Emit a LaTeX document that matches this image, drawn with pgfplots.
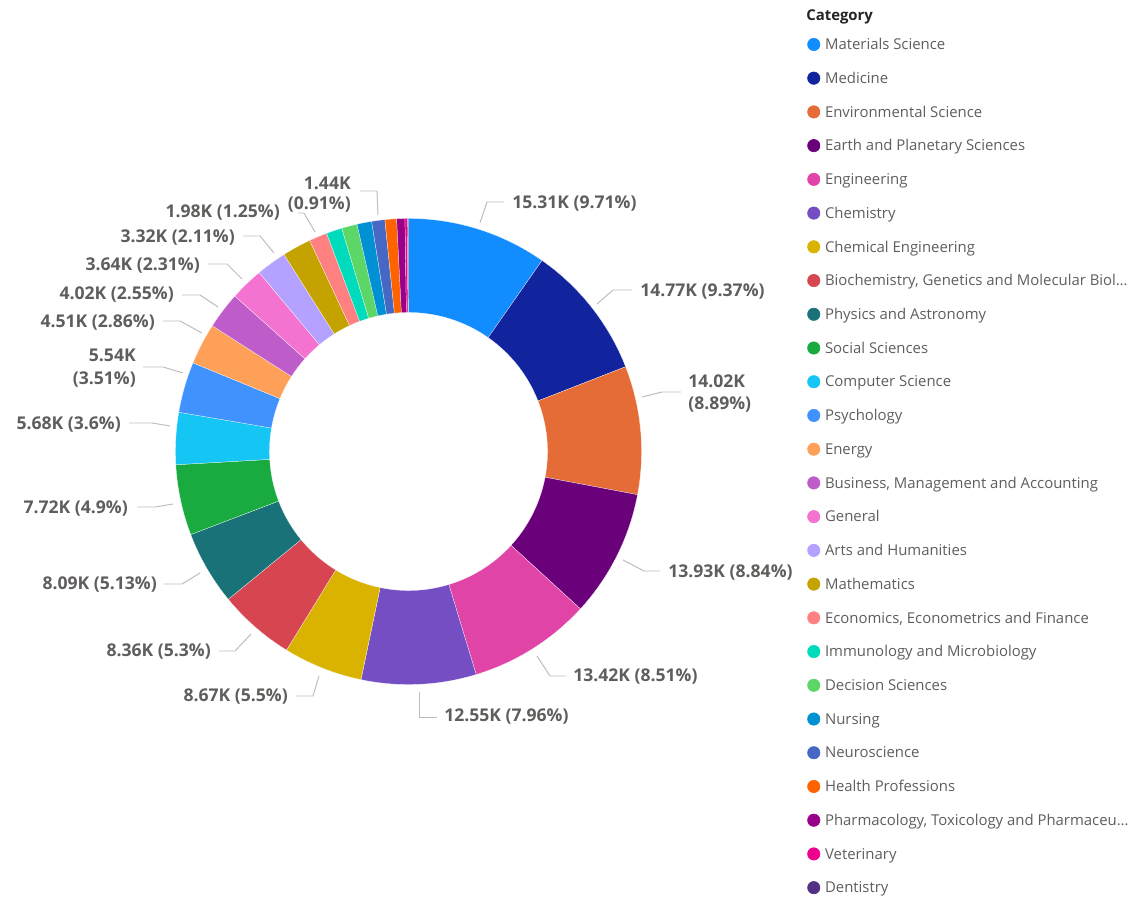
\documentclass[border=0pt]{standalone}
\usepackage{pgfplots}
\pgfplotsset{compat=1.18}
\usepackage{pgfplotstable}
\usepackage{fontspec}
\setmainfont{Open Sans}

\definecolor{lbl}{HTML}{605E5C}
\definecolor{lead}{HTML}{BDBDBD}
\definecolor{ttl}{HTML}{252423}
\newcommand\lblfont{\fontsize{12.5}{14}\selectfont\bfseries}
\newcommand\legfont{\fontsize{10.6}{12}\selectfont}

% category ; value in K ; slice colour
\pgfplotstableread[col sep=semicolon]{
cat;val;hex
Materials Science;15.31;118DFF
Medicine;14.77;12239E
Environmental Science;14.02;E66C37
Earth and Planetary Sciences;13.93;6B007B
Engineering;13.42;E044A7
Chemistry;12.55;744EC2
Chemical Engineering;8.67;D9B300
Biochemistry, Genetics and Molecular Biol…;8.36;D64550
Physics and Astronomy;8.09;197278
Social Sciences;7.72;1AAB40
Computer Science;5.68;15C6F4
Psychology;5.54;4092FF
Energy;4.51;FFA058
Business, Management and Accounting;4.02;BE5DC9
General;3.64;F472D0
Arts and Humanities;3.32;B5A1FF
Mathematics;3.15;C4A200
Economics, Econometrics and Finance;1.98;FF8080
Immunology and Microbiology;1.72;00DBBC
Decision Sciences;1.70;5BD667
Nursing;1.60;0091D5
Neuroscience;1.44;4668C5
Health Professions;1.27;FF6300
Pharmacology, Toxicology and Pharmaceu…;0.90;99008A
Veterinary;0.28;EC008C
Dentistry;0.10;533285
}\slices

% total, then start/end angle of every slice (clockwise from 12 o'clock)
\def\tot{0}
\pgfplotsforeachungrouped \i in {0,...,25}{%
  \pgfplotstablegetelem{\i}{val}\of\slices
  \pgfmathsetmacro\tot{\tot+\pgfplotsretval}%
}
\def\cum{0}
\pgfplotsforeachungrouped \i in {0,...,25}{%
  \pgfplotstablegetelem{\i}{val}\of\slices
  \let\v\pgfplotsretval
  \pgfmathsetmacro\aS{90-360*(\cum/\tot)}%
  \pgfmathsetmacro\cum{\cum+\v}%
  \pgfmathsetmacro\aE{90-360*(\cum/\tot)}%
  \expandafter\xdef\csname wS\i\endcsname{\aS}%
  \expandafter\xdef\csname wE\i\endcsname{\aE}%
  \pgfplotstablegetelem{\i}{hex}\of\slices
  \xglobal\definecolor{c\i}{HTML}{\pgfplotsretval}%
  \pgfplotstablegetelem{\i}{cat}\of\slices
  \expandafter\xdef\csname nm\i\endcsname{\pgfplotsretval}%
}
\def\Ro{5.825cm}
\def\Ri{3.475cm}

\begin{document}
\begin{tikzpicture}
\begin{axis}[name=ax,x=0.025cm,y=0.025cm,xmin=0,xmax=1146,ymin=0,ymax=898,y dir=reverse,hide axis,clip=false,
  legend cell align=left,
  legend image code/.code={\fill[#1] (0.15cm,0cm) circle[radius=0.155cm];},
  legend style={at={(axis cs:807,27.3)},anchor=north west,draw=none,fill=none,inner sep=0pt,
    row sep=0pt,column sep=0.12cm,font=\legfont,text=lbl,
    nodes={inner sep=0pt,text height=0.5515cm,text depth=0.2915cm}}]
\begin{scope}[shift={(axis cs:408.5,451.5)}]
\pgfplotsinvokeforeach{0,...,25}{%
  \fill[c#1,draw=white,line width=0.15pt] ({\csname wS#1\endcsname}:\Ro)
    arc[start angle=\csname wS#1\endcsname,end angle=\csname wE#1\endcsname,radius=\Ro]
    -- ({\csname wE#1\endcsname}:\Ri)
    arc[start angle=\csname wE#1\endcsname,end angle=\csname wS#1\endcsname,radius=\Ri] -- cycle;
}
\end{scope}
\pgfplotsinvokeforeach{0,...,25}{%
  \addlegendimage{c#1}
  \addlegendentry{\csname nm#1\endcsname}
}
% leader lines
\draw[lead,line width=0.7pt] (axis cs:480,223) -- (axis cs:487,202) -- (axis cs:504,202);
\draw[lead,line width=0.7pt] (axis cs:597,304) -- (axis cs:613,290) -- (axis cs:632,290);
\draw[lead,line width=0.7pt] (axis cs:642,397) -- (axis cs:662,392) -- (axis cs:681,392);
\draw[lead,line width=0.7pt] (axis cs:623,560) -- (axis cs:644,571) -- (axis cs:660,571);
\draw[lead,line width=0.7pt] (axis cs:537,656) -- (axis cs:550,676) -- (axis cs:566,676);
\draw[lead,line width=0.7pt] (axis cs:419,692) -- (axis cs:419,717) -- (axis cs:437,717);
\draw[lead,line width=0.7pt] (axis cs:319,676) -- (axis cs:313,696) -- (axis cs:296,696);
\draw[lead,line width=0.7pt] (axis cs:251,634) -- (axis cs:235,651) -- (axis cs:219,651);
\draw[lead,line width=0.7pt] (axis cs:200,573) -- (axis cs:182,584) -- (axis cs:164,584);
\draw[lead,line width=0.7pt] (axis cs:173,504) -- (axis cs:155,507) -- (axis cs:137,507);
\draw[lead,line width=0.7pt] (axis cs:170,426) -- (axis cs:152,423) -- (axis cs:129,423);
\draw[lead,line width=0.7pt] (axis cs:183,373) -- (axis cs:163,367) -- (axis cs:143,367);
\draw[lead,line width=0.7pt] (axis cs:202,333) -- (axis cs:180,321) -- (axis cs:163,321);
\draw[lead,line width=0.7pt] (axis cs:218,307) -- (axis cs:200,295) -- (axis cs:182,295);
\draw[lead,line width=0.7pt] (axis cs:242,279) -- (axis cs:227,264) -- (axis cs:208,264);
\draw[lead,line width=0.7pt] (axis cs:274,253) -- (axis cs:260,236) -- (axis cs:243,236);
\draw[lead,line width=0.7pt] (axis cs:315,232) -- (axis cs:304,213) -- (axis cs:298,213);
\draw[lead,line width=0.7pt] (axis cs:378,215) -- (axis cs:377,191) -- (axis cs:360,191);
% data labels
\begin{scope}[every node/.style={text=lbl,font=\lblfont,inner sep=0pt}]
\node[anchor=west] at (axis cs:512,204) {15.31K (9.71\%)};
\node[anchor=west] at (axis cs:640,292) {14.77K (9.37\%)};
\node[anchor=west] at (axis cs:688,381) {14.02K};
\node[anchor=west] at (axis cs:688,405) {(8.89\%)};
\node[anchor=west] at (axis cs:668,573) {13.93K (8.84\%)};
\node[anchor=west] at (axis cs:573,677) {13.42K (8.51\%)};
\node[anchor=west] at (axis cs:444,717) {12.55K (7.96\%)};
\node[anchor=east] at (axis cs:288,697) {8.67K (5.5\%)};
\node[anchor=east] at (axis cs:211,652) {8.36K (5.3\%)};
\node[anchor=east] at (axis cs:157,585) {8.09K (5.13\%)};
\node[anchor=east] at (axis cs:128,509) {7.72K (4.9\%)};
\node[anchor=east] at (axis cs:121,425) {5.68K (3.6\%)};
\node[anchor=east] at (axis cs:136,355) {5.54K};
\node[anchor=east] at (axis cs:136,380) {(3.51\%)};
\node[anchor=east] at (axis cs:155,323) {4.51K (2.86\%)};
\node[anchor=east] at (axis cs:174,295) {4.02K (2.55\%)};
\node[anchor=east] at (axis cs:200,266) {3.64K (2.31\%)};
\node[anchor=east] at (axis cs:235,238) {3.32K (2.11\%)};
\node[anchor=east] at (axis cs:280,213) {1.98K (1.25\%)};
\node[anchor=east] at (axis cs:351,183) {1.44K};
\node[anchor=east] at (axis cs:351,205) {(0.91\%)};
\end{scope}
\node[anchor=west,inner sep=0pt,text=ttl,font=\legfont\bfseries] at (axis cs:806,17) {Category};
\end{axis}
\pgfresetboundingbox
\path (ax.south west) rectangle (ax.north east);
\end{tikzpicture}
\end{document}
